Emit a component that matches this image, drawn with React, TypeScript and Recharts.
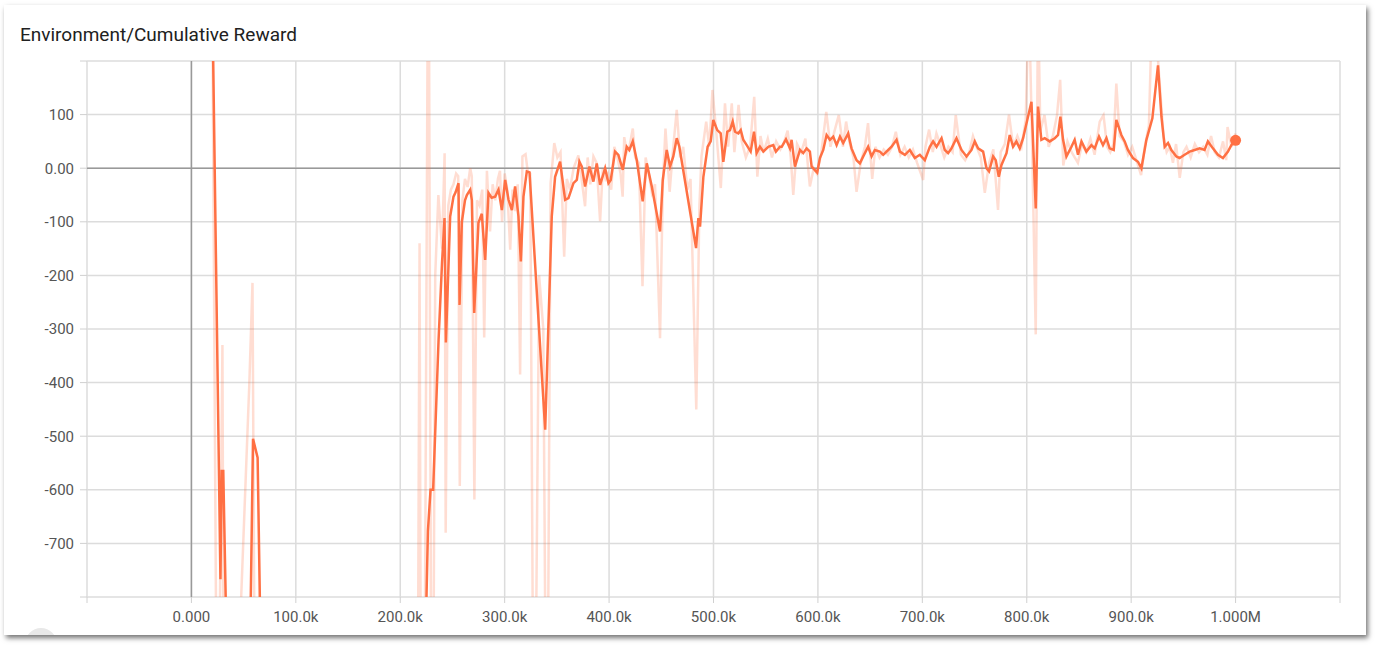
import { LineChart, Line, XAxis, YAxis, CartesianGrid, ReferenceLine, ReferenceDot } from "recharts"

// steps are in thousands
const smoothSteps = [
  20, 27.8, 29, 30.5, 33.5, 45, 56.5, 59, 63.4, 66, 100, 150, 200, 224, 226.5, 229, 231.5, 236.7, 240, 242.4,
  243.7, 247.8, 251, 253, 255.8, 256.8, 259, 262, 263.8, 267, 268.6, 270.8, 274.9, 278.1, 281.3, 284.5, 287.5, 290.9, 294.1, 297.3,
  300.5, 303.7, 306.9, 310, 313.2, 315.5, 318, 321.2, 323.8, 338.8, 345.1, 348.3, 353.1, 357.9, 361.1, 365.9, 369.1, 371.6, 373.9, 377,
  381.2, 385, 388.2, 391.4, 396.2, 399.4, 401.6, 405.7, 408.9, 413.1, 416.9, 419.4, 422.7, 426.5, 432.2, 436.1, 440.9, 448.8, 451.4, 455.2,
  458.4, 461.5, 464.8, 467.3, 483.3, 485.5, 487.1, 490.3, 494.4, 497.3, 499.8, 503.6, 506.9, 509.4, 513.2, 515.8, 518.4, 520.6, 523.8, 526.1,
  528.5, 531.8, 535.6, 538.8, 541.3, 544.5, 547.7, 552.4, 557.2, 559.8, 563.6, 565.3, 569.4, 573.2, 574.8, 578, 582.8, 585.9, 589.2, 592.3,
  594, 599.3, 601.9, 605.1, 608.3, 611.5, 614.7, 617.9, 621.1, 624.2, 629, 632.2, 637, 640.2, 643.4, 648.1, 651.4, 654.5, 659.3, 662.5,
  667.3, 670.5, 675.3, 678.5, 683.3, 688, 692.8, 697.6, 702.4, 707.2, 710.3, 713.6, 718.4, 721.5, 724.7, 727.9, 732.7, 737.5, 742.3, 747.1,
  750.2, 753.4, 758.2, 761.4, 763.9, 767.8, 770.3, 773.2, 775.8, 780.6, 783.7, 786.9, 790.1, 793.3, 796.5, 804.5, 808.6, 810.8, 814, 817.2,
  822, 826.8, 830, 832.2, 834.8, 838, 842.8, 845.9, 849.1, 852.4, 857.1, 861.9, 865.1, 869.2, 873, 876.3, 879.4, 883.3, 885.8, 890.6,
  893.8, 896.9, 901.7, 906.5, 909.8, 914.6, 920.3, 925.7, 929, 932.1, 935.3, 938.5, 943.3, 946.4, 951.2, 956, 960.8, 965.6, 970.3, 973.5,
  978.3, 983.1, 987.9, 992.7, 995.9, 1000,
]
const smoothValues = [
  320, -767, -565, -565, -870, -1400, -850, -505, -540, -860, -1800, -2000, -1600, -900, -677, -600, -600, -320, -177, -93,
  -325, -90, -53, -45, -28, -255, -100, -60, -50, -40, -60, -270, -102, -85, -171, -46, -55, -53, -40, -78,
  -22, -59, -78, -34, -90, -174, -53, -6, -8, -488, -90, -16, 12, -59, -56, -28, -22, 12, 3, -34,
  3, -25, 9, -31, 0, -28, -22, 31, 25, -3, 40, 34, 50, 15, -62, 9, -34, -118, -22, 34,
  3, 22, 56, 40, -149, -93, -109, -16, 40, 50, 90, 71, 65, 12, 68, 71, 87, 68, 65, 71,
  53, 43, 31, 68, 28, 40, 31, 40, 43, 31, 40, 40, 54, 37, 53, 3, 34, 28, 37, 31,
  3, -8, 19, 34, 62, 53, 59, 43, 59, 47, 65, 37, 15, 9, 22, 40, 22, 34, 31, 25,
  34, 40, 53, 31, 25, 34, 19, 25, 15, 40, 50, 40, 56, 34, 28, 37, 56, 34, 22, 34,
  50, 37, 31, 0, -6, 22, 15, -16, 6, 28, 62, 40, 50, 37, 56, 124, -75, 115, 53, 56,
  50, 56, 62, 96, 53, 22, 40, 53, 25, 50, 31, 43, 37, 59, 43, 56, 37, 34, 90, 62,
  50, 34, 19, 12, 0, 53, 93, 192, 96, 40, 47, 34, 22, 19, 25, 31, 34, 37, 34, 50,
  37, 25, 19, 31, 43, 52,
]

const rawSteps = [
  20, 25, 29.7, 32, 55.5, 58.5, 62, 100, 150, 200, 214, 218.5, 221, 227, 230.5, 233.5, 236.5, 240, 242.5, 243.5,
  246, 248.5, 251, 253.5, 255.5, 257, 259.5, 262, 264.5, 267, 268.5, 271, 273.5, 276, 278.5, 280.4, 283, 286, 288.5, 291,
  293.5, 295.5, 297.5, 300, 302.5, 305.3, 307.5, 310, 312.5, 314.8, 317, 320, 322, 324.5, 328.2, 333, 337, 340.4, 344, 347.5,
  350.5, 353.5, 357, 359.5, 362.5, 366, 370.6, 373, 377, 379.5, 382, 385, 388, 391.4, 394, 396.5, 399, 402, 405, 408,
  411, 413, 414.5, 417, 419.5, 422.7, 425, 428.5, 432, 435, 438, 441, 444, 448.8, 451.5, 454, 458, 461, 464.8, 468,
  471, 475, 478, 483.5, 486.5, 488.5, 493, 496, 499, 503, 507, 511, 514, 517.5, 520, 524, 527, 531, 535, 539,
  542, 545, 548, 552, 556, 560, 564, 567, 571, 574, 576.4, 580, 584, 588, 592.3, 596, 599, 603, 608, 612,
  616, 620, 624, 627, 630, 634, 637, 641, 645, 648, 652, 655, 659, 663, 667, 671, 674.6, 679, 683, 687,
  691, 695, 700.8, 703, 706.5, 710, 713.5, 717, 721, 725, 729, 732, 737, 741, 745, 748.5, 752, 756, 759.8, 764,
  768, 772.5, 775, 779, 783, 787, 791, 795, 799, 802, 805, 808.6, 810.8, 813, 817, 821, 825, 829, 832, 835,
  839, 843, 849, 853, 857, 861, 865, 869.9, 873.5, 877, 880, 883, 885.8, 889, 893, 897, 901, 905, 909.5, 913,
  917, 919.5, 922.5, 927.3, 931, 934, 937, 940, 943, 946.5, 950, 953, 957, 961, 965, 969, 973, 976.5, 980, 984,
  988, 991, 992.3, 996, 1000,
]
const rawValues = [
  320, -1300, -330, -1600, -400, -214, -1500, -3000, -3000, -2500, -2500, -140, -2000, 600, -1500, -200, -50, -150, 28, -680,
  -70, -40, -30, -10, -15, -593, -60, -20, -35, 0, -15, -618, -60, -70, -40, -316, -5, -118, -30, -60,
  -20, -5, -100, -10, -40, -152, -40, -80, -30, -385, 22, 26, -5, -10, -1300, -200, -300, -1300, -28, 47,
  20, 30, -165, -20, -40, 0, 24, -10, -71, 20, -30, 22, 10, -99, 0, -20, -10, -40, 40, 20,
  -10, -53, 58, 30, 40, 74, 20, 10, -220, 20, -10, -46, -30, -317, -30, 74, -44, 30, 109, 20,
  40, -40, -20, -450, -70, 22, 87, 40, 146, 60, -37, 121, 40, 121, 30, 118, 50, 20, 40, 133,
  -16, 60, 30, 55, 20, 50, 35, 45, 70, 20, -50, 45, 30, 55, -34, 0, -10, 25, 105, 40,
  70, 99, 40, 87, 50, 20, -44, 10, 40, 84, -20, 40, 20, 35, 25, 40, 68, 25, 40, 20,
  35, 10, -22, 40, 72, 30, 65, 45, 20, 40, 30, 99, 25, 15, 30, 60, 40, 20, -46, 10,
  35, -78, 30, 45, 100, 40, 60, 40, 90, 320, 60, -310, 320, 70, 99, 40, 60, 99, 165, 5,
  50, 30, 10, 45, 30, 55, 25, 87, 99, 40, 30, 45, 158, 60, 50, 25, 40, 15, -13, 40,
  80, 260, 290, 158, 60, 30, 40, 10, 45, -18, 30, 40, 20, 45, 30, 40, 25, 60, 30, 20,
  50, 15, 77, 40, 65,
]

const xTicks = [-100000, 0, 100000, 200000, 300000, 400000, 500000, 600000, 700000, 800000, 900000, 1000000, 1100000]
const yTicks = [-800, -700, -600, -500, -400, -300, -200, -100, 0, 100, 200]

const ORANGE = "#ff7043"

function formatStep(v: number) {
  if (v < 0 || v > 1000000) return ""
  if (v === 0) return "0.000"
  if (v >= 1000000) return (v / 1000000).toFixed(3) + "M"
  return (v / 1000).toFixed(1) + "k"
}

function formatValue(v: number) {
  if (v === 200 || v === -800) return ""
  if (v === 0) return "0.00"
  return String(v)
}

export default function App() {
  const smoothData = smoothSteps.map((s, i) => ({ step: s * 1000, value: smoothValues[i] }))
  const rawData = rawSteps.map((s, i) => ({ step: s * 1000, value: rawValues[i] }))
  const last = smoothData[smoothData.length - 1]

  return (
    <div style={{ position: "fixed", left: 0, top: 0, width: 1380, height: 648, background: "#fff", fontFamily: "Roboto, sans-serif" }}>
      {/* card */}
      <div
        style={{
          position: "absolute", left: 4, top: 5, width: 1362, height: 630, background: "#fff",
          boxShadow: "2px 3px 5px rgba(0,0,0,0.55)", overflow: "hidden",
        }}
      >
        <div style={{ position: "absolute", left: 21, top: 623, width: 32, height: 32, borderRadius: 16, background: "#e8e8e8" }} />
      </div>
      <div style={{ position: "absolute", left: 20, top: 25, fontSize: 19, lineHeight: "19px", color: "#212121" }}>
        Environment/Cumulative Reward
      </div>
      <div style={{ position: "absolute", left: 0, top: 0 }}>
        <LineChart width={1380} height={648} margin={{ top: 61, right: 40, bottom: 21, left: 7 }}>
          <CartesianGrid stroke="#dcdcdc" strokeWidth={1.5} />
          <XAxis
            type="number"
            dataKey="step"
            domain={[-100000, 1100000]}
            ticks={xTicks}
            interval={0}
            allowDataOverflow
            height={30}
            tickSize={6}
            tickMargin={8}
            axisLine={false}
            tickLine={{ stroke: "#d0d0d0" }}
            tick={{ fill: "#555", fontSize: 15 }}
            tickFormatter={formatStep}
          />
          <YAxis
            type="number"
            dataKey="value"
            domain={[-800, 200]}
            ticks={yTicks}
            interval={0}
            allowDataOverflow
            width={80}
            tickSize={7}
            tickMargin={6}
            axisLine={false}
            tickLine={{ stroke: "#d0d0d0" }}
            tick={{ fill: "#555", fontSize: 15 }}
            tickFormatter={formatValue}
          />
          <ReferenceLine x={0} stroke="#999" strokeWidth={1.5} />
          <ReferenceLine y={0} stroke="#999" strokeWidth={1.5} />
          <Line
            data={rawData}
            dataKey="value"
            type="linear"
            stroke={ORANGE}
            strokeOpacity={0.24}
            strokeWidth={2.5}
            dot={false}
            isAnimationActive={false}
          />
          <Line
            data={smoothData}
            dataKey="value"
            type="linear"
            stroke={ORANGE}
            strokeWidth={2.5}
            dot={false}
            isAnimationActive={false}
          />
          <ReferenceDot x={last.step} y={last.value} r={5.5} fill={ORANGE} stroke="none" />
        </LineChart>
      </div>
    </div>
  )
}
